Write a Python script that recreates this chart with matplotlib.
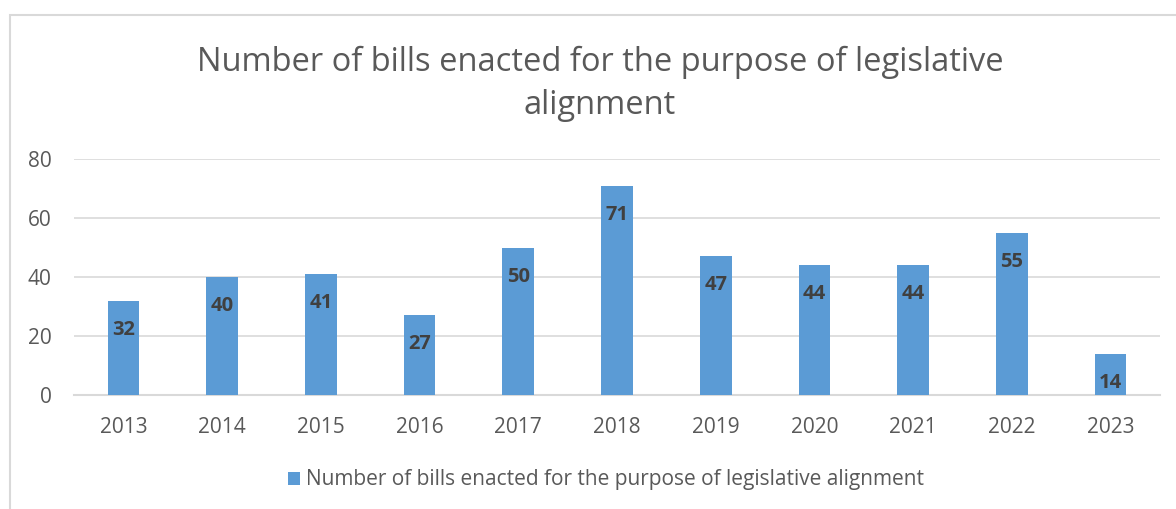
import matplotlib.pyplot as plt
from matplotlib.patches import Rectangle

years = ["2013", "2014", "2015", "2016", "2017", "2018", "2019", "2020", "2021", "2022", "2023"]
bills = [32, 40, 41, 27, 50, 71, 47, 44, 44, 55, 14]
series_name = "Number of bills enacted for the purpose of legislative alignment"

plt.rcParams["font.family"] = ["Open Sans", "DejaVu Sans"]

fig = plt.figure(figsize=(11.76, 5.09), dpi=100)
ax = fig.add_axes([74 / 1176, 1 - 395 / 509, (1160 - 74) / 1176, (395 - 159) / 509])

# Outer chart border (light gray), runs off the right and bottom edges
fig.patches.append(
    Rectangle((10 / 1176, -0.05), 1.2, 1.05 - 15 / 509, transform=fig.transFigure,
              fill=False, edgecolor="#d9d9d9", linewidth=1.5)
)

x = range(len(years))
bars = ax.bar(x, bills, width=0.32, color="#5b9bd5", label=series_name, zorder=3)

for xi, v in zip(x, bills):
    ax.annotate(str(v), (xi, v), xytext=(0, -29), textcoords="offset pixels",
                ha="center", va="center", fontsize=14.5, fontweight="bold",
                color="#404040", zorder=4)

ax.set_xlim(-0.5, len(years) - 0.5)
ax.set_ylim(0, 80)
ax.set_yticks([0, 20, 40, 60, 80])
ax.set_xticks(list(x))
ax.set_xticklabels(years)
ax.grid(axis="y", color="#d9d9d9", linewidth=1.2, zorder=0)
for s in ["top", "right", "left"]:
    ax.spines[s].set_visible(False)
ax.spines["bottom"].set_color("#d9d9d9")
ax.spines["bottom"].set_linewidth(1.5)
ax.tick_params(axis="both", length=0, labelsize=15, labelcolor="#595959")
ax.tick_params(axis="x", pad=16)
ax.tick_params(axis="y", pad=16)

fig.text(600 / 1176, 1 - 84 / 509,
         "Number of bills enacted for the purpose of legislative\nalignment",
         ha="center", va="center", fontsize=23.5, color="#595959", linespacing=1.4)

fig.legend(handles=[bars], labels=[series_name], loc="center",
           bbox_to_anchor=(606 / 1176, 1 - 480 / 509), frameon=False,
           fontsize=15, labelcolor="#595959", handlelength=0.6, handleheight=0.6,
           handletextpad=0.3)

fig.savefig("out.png", dpi=100, facecolor="white")
